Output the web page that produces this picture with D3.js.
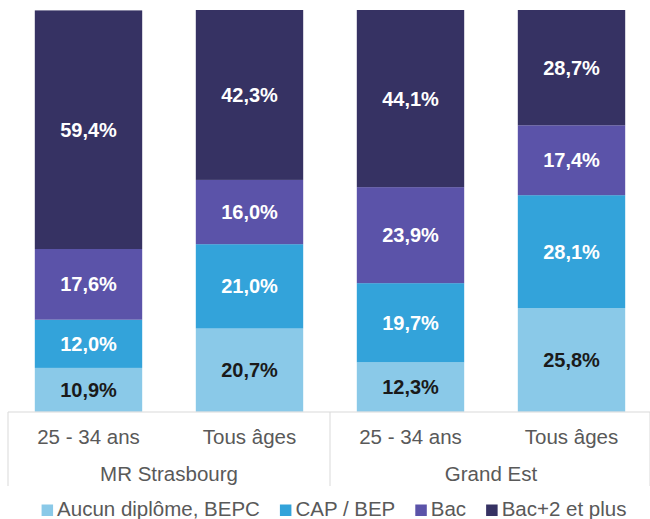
<!DOCTYPE html>
<html>
<head>
<meta charset="utf-8">
<script src="https://cdn.jsdelivr.net/npm/d3@7"></script>
<style>
  body { margin: 0; background: #fff; }
  svg { display: block; font-family: 'Liberation Sans', Arial, sans-serif; }
</style>
</head>
<body>
<div id="chart"></div>
<script>
(function () {
  'use strict';

  // chart data
  var categories = ['25 - 34 ans', 'Tous âges', '25 - 34 ans', 'Tous âges'];
  var groups = ['MR Strasbourg', 'Grand Est'];
  var groupOfBar = [0, 0, 1, 1];
  var seriesNames = ['Aucun diplôme, BEPC', 'CAP / BEP', 'Bac', 'Bac+2 et plus'];
  var aucunDiplome = [10.9, 20.7, 12.3, 25.8];
  var capBep = [12.0, 21.0, 19.7, 28.1];
  var bac = [17.6, 16.0, 23.9, 17.4];
  var bacPlus2 = [59.4, 42.3, 44.1, 28.7];
  var colors = ['#8ac9e8', '#33a3da', '#5b53a9', '#363263'];
  var labelColors = ['#1a1a1a', '#fff', '#fff', '#fff'];

  var width = 650, height = 519;
  var left = 8, right = 652, top = 10, bottom = 411.7;

  var svg = d3.select('#chart').append('svg')
    .attr('width', width)
    .attr('height', height);

  var rows = categories.map(function (c, i) {
    return { idx: i, s0: aucunDiplome[i], s1: capBep[i], s2: bac[i], s3: bacPlus2[i] };
  });
  var stack = d3.stack().keys(['s0', 's1', 's2', 's3']);
  var layers = stack(rows);

  var x = d3.scaleBand()
    .domain(d3.range(categories.length))
    .range([left, right])
    .paddingInner(0.333)
    .paddingOuter(0.1665);

  var y = d3.scaleLinear().domain([0, 100]).range([bottom, top]);

  var layer = svg.selectAll('g.layer')
    .data(layers)
    .enter().append('g')
    .attr('class', 'layer')
    .attr('fill', function (d, i) { return colors[i]; });

  layer.selectAll('rect')
    .data(function (d) { return d; })
    .enter().append('rect')
    .attr('x', function (d) { return x(d.data.idx); })
    .attr('y', function (d) { return y(d[1]); })
    .attr('width', x.bandwidth())
    .attr('height', function (d) { return y(d[0]) - y(d[1]); });

  layers.forEach(function (l, li) {
    svg.append('g').selectAll('text')
      .data(l)
      .enter().append('text')
      .attr('x', function (d) { return x(d.data.idx) + x.bandwidth() / 2; })
      .attr('y', function (d) { return (y(d[0]) + y(d[1])) / 2 + 7; })
      .attr('text-anchor', 'middle')
      .attr('font-size', '20px')
      .attr('font-weight', 'bold')
      .attr('fill', labelColors[li])
      .text(function (d) { return (d[1] - d[0]).toFixed(1).replace('.', ',') + '%'; });
  });

  // category axis
  var axis = d3.axisBottom(x)
    .tickSize(0)
    .tickPadding(0)
    .tickFormat(function (i) { return categories[i]; });
  var ax = svg.append('g')
    .attr('transform', 'translate(0,' + 412 + ')')
    .call(axis);
  ax.select('.domain').attr('stroke', '#d9d9d9').attr('d', 'M' + left + ',0H650');
  ax.selectAll('.tick text')
    .attr('dy', null)
    .attr('y', 32)
    .attr('font-size', '20.5px')
    .attr('font-family', "'Liberation Sans', Arial, sans-serif")
    .attr('fill', '#595959');

  // group separators and labels
  var gx = d3.scaleBand().domain(d3.range(groups.length)).range([left, right]);
  var seps = [left, gx(1), 650];
  svg.selectAll('line.sep')
    .data(seps)
    .enter().append('line')
    .attr('class', 'sep')
    .attr('x1', function (d) { return d; })
    .attr('x2', function (d) { return d; })
    .attr('y1', 412)
    .attr('y2', 486)
    .attr('stroke', '#d9d9d9');

  svg.selectAll('text.group')
    .data(groups)
    .enter().append('text')
    .attr('class', 'group')
    .attr('x', function (d, i) {
      var idx = groupOfBar.map(function (g, j) { return g === i ? j : -1; })
        .filter(function (j) { return j >= 0; });
      return (x(idx[0]) + x(idx[idx.length - 1]) + x.bandwidth()) / 2;
    })
    .attr('y', 481)
    .attr('text-anchor', 'middle')
    .attr('font-size', '20.5px')
    .attr('fill', '#595959')
    .text(function (d) { return d; });

  // legend
  var legend = svg.append('g').attr('transform', 'translate(0,516)');
  var cursor = 0;
  var items = legend.selectAll('g.item')
    .data(seriesNames)
    .enter().append('g')
    .attr('class', 'item');
  items.append('rect')
    .attr('x', 0)
    .attr('y', -11.5)
    .attr('width', 11.5)
    .attr('height', 11.5)
    .attr('fill', function (d, i) { return colors[i]; });
  items.append('text')
    .attr('x', 15.5)
    .attr('font-size', '20.5px')
    .attr('fill', '#595959')
    .text(function (d) { return d; });
  items.each(function () {
    var g = d3.select(this);
    g.attr('transform', 'translate(' + cursor + ',0)');
    cursor += 15.5 + g.select('text').node().getComputedTextLength() + 20;
  });
  var legendW = cursor - 20;
  legend.attr('transform', 'translate(' + (334 - legendW / 2) + ',516)');
})();
</script>
</body>
</html>
